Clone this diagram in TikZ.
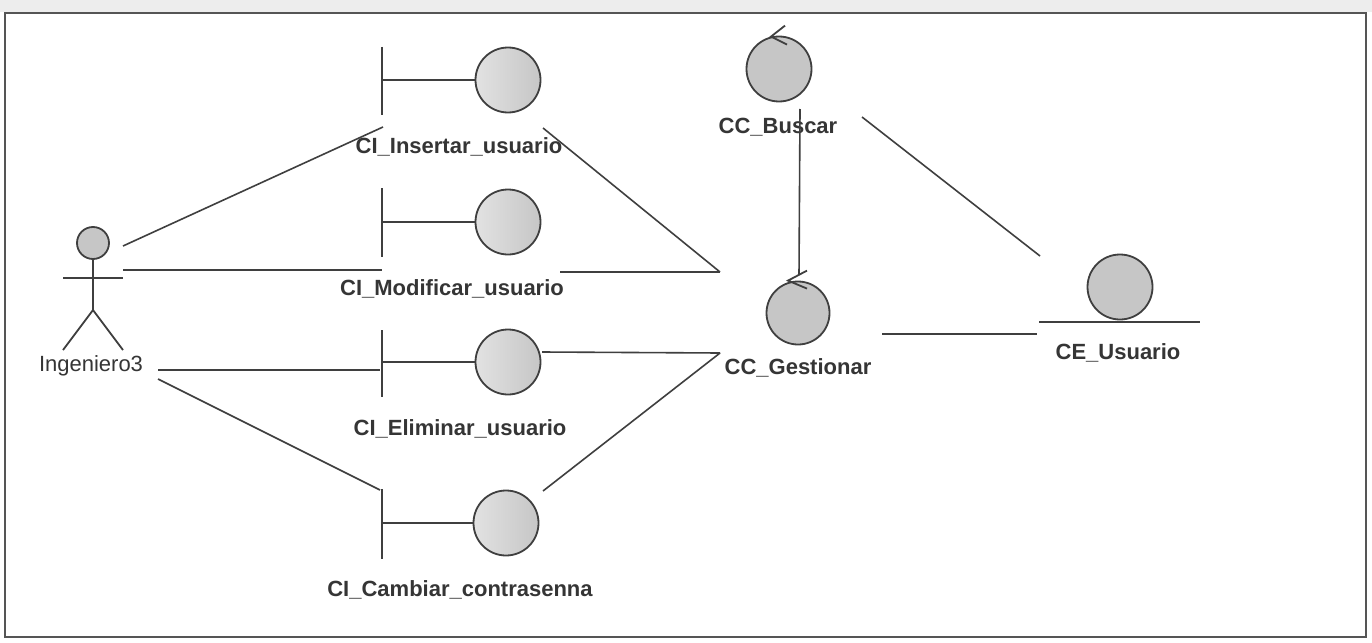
\documentclass[tikz,border=0pt]{standalone}
\usepackage{fontspec}
\setmainfont{Liberation Sans}
\definecolor{inkc}{HTML}{3F3F3F}
\definecolor{txtc}{HTML}{353535}
\definecolor{orbfill}{HTML}{C6C6C6}
\definecolor{orblight}{HTML}{E2E2E2}
\definecolor{framec}{HTML}{555555}
\begin{document}
\begin{tikzpicture}[x=1pt,y=-1pt,
  ink/.style={draw=inkc, line width=1.8pt},
  link/.style={draw=inkc, line width=1.6pt},
  orb/.style={circle, draw=inkc, line width=1.8pt, fill=orbfill, minimum size=65pt, inner sep=0pt},
  borb/.style={orb, left color=orblight, right color=orbfill},
  lbl/.style={font=\fontsize{22}{24}\selectfont\bfseries, text=txtc, inner sep=0pt},
  plain/.style={font=\fontsize{22}{24}\selectfont, text=txtc, inner sep=0pt}]
\useasboundingbox (0,0) rectangle (1372,642);
% page and frame
\fill[white] (0,0) rectangle (1372,642);
\fill[gray!14] (0,0) rectangle (1372,12);
\draw[draw=framec, line width=1.5pt] (5,13) rectangle (1366,637);

% actor
\node[circle, draw=inkc, line width=1.8pt, fill=orbfill, minimum size=32pt, inner sep=0pt] (actor) at (93,243) {};
\draw[ink] (actor.south) -- (93,310);
\draw[ink] (63,278) -- (123,278);
\draw[ink] (63,350) -- (93,310) -- (123,350);
\node[plain] (actorL) at (91,366) {Ingeniero3};

% boundary objects
\node[borb] (ins) at (508,80) {};
\draw[ink] (382,47) -- (382,115);
\draw[ink] (382,80) -- (ins.west);
\node[lbl] (insL) at (459,147) {CI\_Insertar\_usuario};

\node[borb] (mod) at (508,222) {};
\draw[ink] (382,188) -- (382,257);
\draw[ink] (382,222) -- (mod.west);
\node[lbl] (modL) at (452,289) {CI\_Modificar\_usuario};

\node[borb] (eli) at (508,362) {};
\draw[ink] (382,330) -- (382,397);
\draw[ink] (382,362) -- (eli.west);
\node[lbl] (eliL) at (460,429) {CI\_Eliminar\_usuario};

\node[borb] (cam) at (506,523) {};
\draw[ink] (382,489) -- (382,559);
\draw[ink] (382,523) -- (cam.west);
\node[lbl] (camL) at (460,590) {CI\_Cambiar\_contrasenna};

% control objects, each with its circulation arrow on top
\node[orb] (bus) at (779,69) {};
\draw[ink] ([shift={(6,-10)}]bus.north) -- ([shift={(-8,1)}]bus.north) -- ([shift={(8,9)}]bus.north);
\node[lbl] (busL) at (778,127) {CC\_Buscar};

\node[orb, minimum size=63pt] (ges) at (798,313) {};
\draw[ink] ([shift={(9,-10)}]ges.north) -- ([shift={(-10,0)}]ges.north) -- ([shift={(9,8)}]ges.north);
\node[lbl] (gesL) at (798,368) {CC\_Gestionar};

% entity object
\node[orb] (usr) at (1120,287) {};
\draw[ink] (1039,322) -- (1200,322);
\node[lbl] (usrL) at (1118,353) {CE\_Usuario};

% connector ends
\coordinate (a1) at (123,246);
\coordinate (a2) at (123,270);
\coordinate (a3) at (158,370);
\coordinate (a4) at (158,379);
\coordinate (ins-w) at (383,127);
\coordinate (ins-e) at (543,128);
\coordinate (mod-w) at (382,270);
\coordinate (mod-e) at (560,272);
\coordinate (eli-w) at (380,370);
\coordinate (eli-e) at (542,352);
\coordinate (cam-w) at (380,490);
\coordinate (cam-e) at (543,491);
\coordinate (ges-a) at (720,272);
\coordinate (ges-b) at (720,353);
\coordinate (ges-n) at (799,275);
\coordinate (ges-e) at (882,334);
\coordinate (bus-s) at (800,109);
\coordinate (bus-e) at (862,117);
\coordinate (usr-n) at (1040,256);
\coordinate (usr-w) at (1037,334);

% links
\draw[link] (a1) -- (ins-w);
\draw[link] (a2) -- (mod-w);
\draw[link] (a3) -- (eli-w);
\draw[link] (a4) -- (cam-w);
\draw[link] (ins-e) -- (ges-a);
\draw[link] (mod-e) -- (ges-a);
\draw[link] (eli-e) -- (ges-b);
\draw[link] (cam-e) -- (ges-b);
\draw[link] (bus-s) -- (ges-n);
\draw[link] (bus-e) -- (usr-n);
\draw[link] (ges-e) -- (usr-w);
\end{tikzpicture}
\end{document}
